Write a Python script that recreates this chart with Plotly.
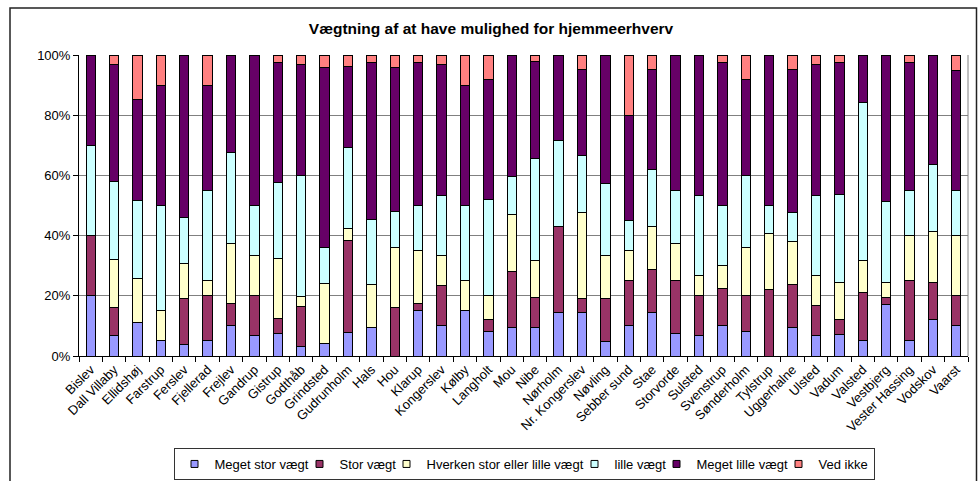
import plotly.graph_objects as go

categories = ["Bislev", "Dall Villaby", "Ellidshøj", "Farstrup", "Ferslev", "Fjellerad",
              "Frejlev", "Gandrup", "Gistrup", "Godthåb", "Grindsted", "Gudrunholm", "Hals",
              "Hou", "Klarup", "Kongerslev", "Kølby", "Langholt", "Mou", "Nibe", "Nørholm",
              "Nr. Kongerslev", "Nøvling", "Sebber sund", "Stae", "Storvorde", "Sulsted",
              "Svenstrup", "Sønderholm", "Tylstrup", "Uggerhalne", "Ulsted", "Vadum",
              "Valsted", "Vestbjerg", "Vester Hassing", "Vodskov", "Vaarst"]

meget_stor = [20, 6.7, 11.1, 5, 3.8, 5, 10, 6.7, 7.5, 3.3, 4, 7.7, 9.5, 0, 15, 10, 15, 8, 9.4,
              9.5, 14.3, 14.3, 4.8, 10, 14.3, 7.5, 6.7, 10, 8, 0, 9.5, 6.7, 7.3, 5.3, 17.1, 5,
              12.2, 10]
stor = [20, 9.5, 0, 0, 15.4, 15, 7.5, 13.3, 5, 13.3, 0, 30.8, 0, 16, 2.5, 13.3, 0, 4, 18.8,
        10, 28.6, 4.8, 14.3, 15, 14.3, 17.5, 13.3, 12.5, 12, 22.2, 14.3, 10, 4.9, 15.8, 2.4,
        20, 12.2, 10]
hverken = [0, 16, 14.8, 10, 11.5, 5, 20, 13.3, 20, 3.3, 20, 3.8, 14.3, 20, 17.5, 10, 10, 8,
           18.8, 12.3, 0, 28.6, 14.3, 10, 14.3, 12.5, 6.7, 7.5, 16, 18.5, 14.3, 10, 12.2, 10.5,
           4.9, 15, 17.1, 20]
lille = [30, 25.8, 25.9, 35, 15.4, 30, 30, 16.7, 25, 40, 12, 26.9, 21.4, 12, 15, 20, 25, 32,
         12.5, 33.8, 28.6, 19, 23.8, 10, 19, 17.5, 26.7, 20, 24, 9.3, 9.5, 26.7, 29.3, 52.6,
         26.8, 15, 22, 15]
meget_lille = [30, 38.7, 33.3, 40, 53.9, 35, 32.5, 50, 40, 36.8, 60, 26.9, 52.4, 48, 47.5,
               43.4, 40, 40, 40.5, 32.1, 28.5, 28.5, 42.8, 35, 33.3, 45, 46.6, 47.5, 32, 50,
               47.6, 43.3, 43.9, 15.8, 48.8, 42.5, 36.5, 40]
ved_ikke = [0, 3.3, 14.9, 10, 0, 10, 0, 0, 2.5, 3.3, 4, 3.9, 2.4, 4, 2.5, 3.3, 10, 8, 0, 2.3,
            0, 4.8, 0, 20, 4.8, 0, 0, 2.5, 8, 0, 4.8, 3.3, 2.4, 0, 0, 2.5, 0, 5]

series_names = ["Meget stor vægt", "Stor vægt", "Hverken stor eller lille vægt",
                "lille vægt", "Meget lille vægt", "Ved ikke"]
series_values = [meget_stor, stor, hverken, lille, meget_lille, ved_ikke]
series_colors = ["#9999FF", "#993366", "#FFFFCC", "#CCFFFF", "#660066", "#FF8080"]
# approximate text widths of legend labels (px) used to tighten legend spacing
legend_text_widths = [94, 56, 157, 51, 91, 50]

FONT = "Liberation Sans, Arial, sans-serif"

fig = go.Figure()
for name, vals, col in zip(series_names, series_values, series_colors):
    fig.add_trace(go.Bar(
        x=categories, y=vals, name=name, showlegend=False,
        marker=dict(color=col, line=dict(color="#000000", width=1)),
        width=0.4,
    ))
# legend entries with small square symbols (as in the original)
for i, (name, col, tw) in enumerate(zip(series_names, series_colors, legend_text_widths)):
    fig.add_trace(go.Scatter(
        x=[None], y=[None], mode="markers", name=name, showlegend=True,
        marker=dict(symbol="square", size=7, color=col, line=dict(color="#000000", width=1)),
        legendwidth=(tw - 14) if i < len(series_names) - 1 else tw,
    ))

fig.update_layout(
    width=980, height=481,
    barmode="stack",
    paper_bgcolor="white", plot_bgcolor="white",
    margin=dict(l=79, r=12, t=55, b=125),
    font=dict(family=FONT, size=13, color="black"),
    title=dict(text="<b>Vægtning af at have mulighed for hjemmeerhverv</b>",
               x=491 / 980, xanchor="center", y=1 - 29 / 481, yanchor="middle",
               font=dict(family=FONT, size=15.5, color="black")),
    showlegend=True,
    legend=dict(orientation="h", xref="container", yref="container",
                x=524 / 980, xanchor="center",
                y=1 - 464 / 481, yanchor="middle",
                bordercolor="#333333", borderwidth=1, bgcolor="white",
                font=dict(family=FONT, size=13), traceorder="normal",
                itemwidth=30),
)

fig.update_xaxes(
    type="category", tickangle=-45, ticks="outside", tickson="boundaries",
    ticklen=5, tickcolor="black", showline=True, linecolor="black", linewidth=1,
    showgrid=False, tickfont=dict(family=FONT, size=13), automargin=False,
)
fig.update_yaxes(
    range=[0, 100], dtick=20, ticksuffix="%", ticks="outside", ticklen=5,
    tickcolor="black", showline=True, linecolor="black", linewidth=1,
    showgrid=True, gridcolor="#808080", gridwidth=1, zeroline=False,
    tickfont=dict(family=FONT, size=13), automargin=False,
)

# plot-area right border (grey)
fig.add_shape(type="line", xref="paper", yref="paper", x0=1, x1=1, y0=0, y1=1,
              line=dict(color="#808080", width=1))
# outer chart frame
fig.add_shape(type="rect", xref="paper", yref="paper",
              x0=(10 - 79) / 889, x1=(976.5 - 79) / 889,
              y0=-0.6, y1=(356 - 8) / 301,
              line=dict(color="#222222", width=1.5), fillcolor="rgba(0,0,0,0)", layer="below")

fig.write_html("out.html", config={"displayModeBar": False},
               post_script="document.body.style.margin='0';")
